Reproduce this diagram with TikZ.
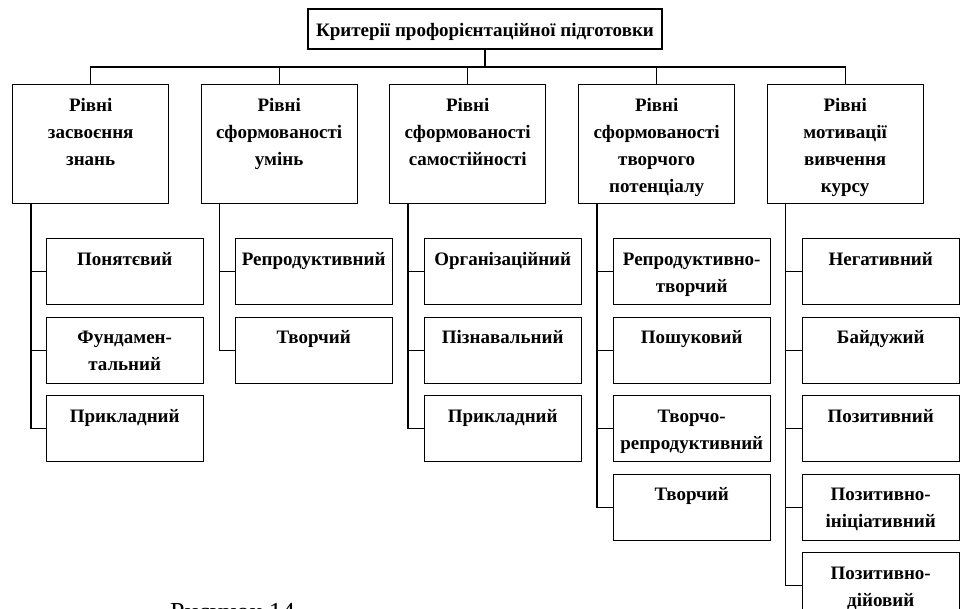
\documentclass[tikz,border=0pt]{standalone}
\usepackage{fontspec}
\setmainfont{Liberation Serif}

% top-aligned, centred text inside a box of fixed height
\newcommand{\celltext}[2]{\parbox[c][#1][t]{150pt}{\centering\rule{0pt}{26.5pt}#2}}

\begin{document}
\begin{tikzpicture}[x=1pt,y=-1pt,line cap=rect,font={\fontsize{19}{27}\selectfont\bfseries}]

\tikzset{
topbox/.style={draw, line width=1.4pt, inner sep=0pt, minimum width=354pt, minimum height=40pt, text height=19pt, text depth=4pt},
lvlbox/.style={draw, line width=1.4pt, inner sep=0pt, minimum width=156pt, anchor=north west},
subbox/.style={draw, line width=1.4pt, inner sep=0pt, minimum width=157pt, anchor=north west},
link/.style={line width=1.3pt}
}

\clip (0,0) rectangle (965,609);

\node[topbox] (title) at (485,29) {Критерії профорієнтаційної підготовки};
\coordinate (bus) at (485,67);

% criteria
\node[lvlbox] (knowl) at (12,84)    {\celltext{119pt}{Рівні\\засвоєння\\знань}};
\node[lvlbox] (skill) at (200.5,84) {\celltext{119pt}{Рівні\\сформованості\\умінь}};
\node[lvlbox] (indep) at (389,84)   {\celltext{119pt}{Рівні\\сформованості\\самостійності}};
\node[lvlbox] (creat) at (578,84)   {\celltext{119pt}{Рівні\\сформованості\\творчого\\потенціалу}};
\node[lvlbox] (motiv) at (766.5,84) {\celltext{119pt}{Рівні\\мотивації\\вивчення\\курсу}};

% levels
\node[subbox] (knowl1) at (45.5,238)   {\celltext{66pt}{Понятєвий}};
\node[subbox] (knowl2) at (45.5,316.5) {\celltext{66pt}{Фундамен-\\тальний}};
\node[subbox] (knowl3) at (45.5,395)   {\celltext{66pt}{Прикладний}};

\node[subbox] (skill1) at (234.5,238)   {\celltext{66pt}{Репродуктивний}};
\node[subbox] (skill2) at (234.5,316.5) {\celltext{66pt}{Творчий}};

\node[subbox] (indep1) at (423.5,238)   {\celltext{66pt}{Організаційний}};
\node[subbox] (indep2) at (423.5,316.5) {\celltext{66pt}{Пізнавальний}};
\node[subbox] (indep3) at (423.5,395)   {\celltext{66pt}{Прикладний}};

\node[subbox] (creat1) at (612.5,238)   {\celltext{66pt}{Репродуктивно-\\творчий}};
\node[subbox] (creat2) at (612.5,316.5) {\celltext{66pt}{Пошуковий}};
\node[subbox] (creat3) at (612.5,395)   {\celltext{66pt}{Творчо-\\репродуктивний}};
\node[subbox] (creat4) at (612.5,473.5) {\celltext{66pt}{Творчий}};

\node[subbox] (motiv1) at (801.5,238)   {\celltext{66pt}{Негативний}};
\node[subbox] (motiv2) at (801.5,316.5) {\celltext{66pt}{Байдужий}};
\node[subbox] (motiv3) at (801.5,395)   {\celltext{66pt}{Позитивний}};
\node[subbox] (motiv4) at (801.5,473.5) {\celltext{66pt}{Позитивно-\\ініціативний}};
\node[subbox] (motiv5) at (801.5,552)   {\celltext{66pt}{Позитивно-\\дійовий}};

\node[font={\fontsize{26}{30}\selectfont\mdseries}, anchor=base west, inner sep=0pt] (caption) at (170,620) {Рисунок 14};

% connectors
\draw[link] (title.south) -- (bus);
\draw[link] (knowl.north |- bus) -- (motiv.north |- bus);
\foreach \p in {knowl,skill,indep,creat,motiv}
  \draw[link] (\p.north) -- (\p.north |- bus);

\foreach \p/\n in {knowl/3,skill/2,indep/3,creat/4,motiv/5}
  \foreach \k in {1,...,\n}
    \draw[link] ([xshift=19pt]\p.south west) |- (\p\k.west);

\end{tikzpicture}
\end{document}
